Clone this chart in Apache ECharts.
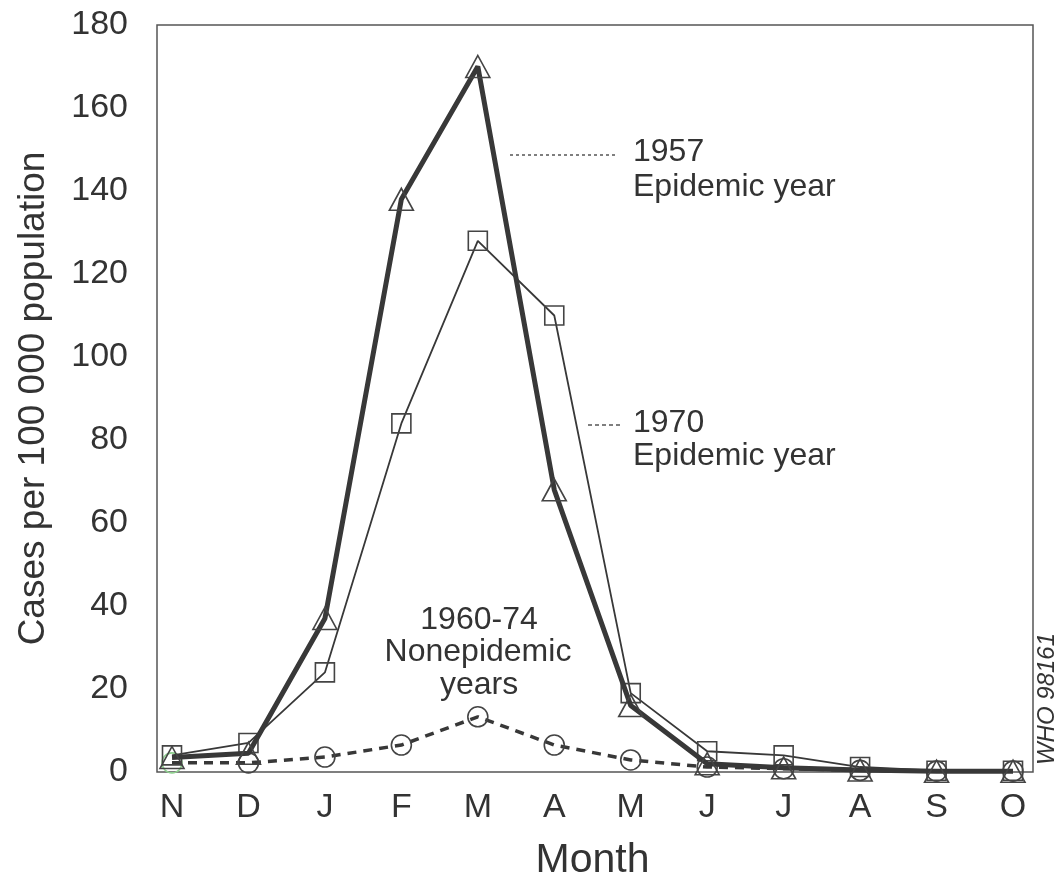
<!DOCTYPE html>
<html>
<head>
<meta charset="utf-8">
<script src="https://cdn.jsdelivr.net/npm/echarts@6/dist/echarts.min.js"></script>
<style>
html,body{margin:0;padding:0;background:#fff;}
#chart{width:1064px;height:875px;}
</style>
</head>
<body>
<div id="chart"></div>
<script>
const months = ['N','D','J','F','M','A','M','J','J','A','S','O'];
const yTicks = [0, 20, 40, 60, 80, 100, 120, 140, 160, 180];
const epi1957 = [3.5, 4.5, 37, 138, 170, 68, 16, 2, 1, 0.5, 0.2, 0.2];
const epi1970 = [4, 7, 24, 84, 128, 110, 19, 5, 4, 1.2, 0.3, 0.3];
const nonEpi = [2.2, 2.2, 3.6, 6.5, 13.3, 6.5, 2.9, 1.2, 0.8, 0.4, 0.2, 0.2];

const FONT = '"Liberation Sans", Arial, sans-serif';
const INK = '#333';
const LINE = '#383838';

const chart = echarts.init(document.getElementById('chart'), null, {renderer: 'canvas'});

function markerStyle(){
  return {color: 'rgba(0,0,0,0)', borderColor: '#444', borderWidth: 1.6};
}

const nonEpiData = nonEpi.map((v, i) => i === 0
  ? {value: v, itemStyle: {color: 'rgba(0,0,0,0)', borderColor: '#8fd08f', borderWidth: 1.6}}
  : v);

const option = {
  backgroundColor: '#fff',
  animation: false,
  grid: [
    {left: 172, right: 51, top: 25, bottom: 103, containLabel: false, outerBoundsMode: 'none'},
    {left: 157, right: 31, top: 25, bottom: 103, outerBoundsMode: 'none', show: true, borderColor: '#555', borderWidth: 1.5, backgroundColor: 'rgba(0,0,0,0)'}
  ],
  xAxis: [
    {
      type: 'category', gridIndex: 0, data: months, boundaryGap: false,
      axisLine: {show: false}, axisTick: {show: false},
      axisLabel: {fontFamily: FONT, fontSize: 34, color: INK, margin: 19, interval: 0},
      name: 'Month', nameLocation: 'middle', nameGap: 68,
      nameTextStyle: {fontFamily: FONT, fontSize: 41, color: INK}
    },
    {type: 'value', gridIndex: 1, show: false, min: 0, max: 1}
  ],
  yAxis: [
    {
      type: 'value', gridIndex: 0, min: 0, max: 180, interval: 20,
      axisLine: {show: false}, axisTick: {show: false}, splitLine: {show: false},
      axisLabel: {fontFamily: FONT, fontSize: 34, color: INK, margin: 44,
        formatter: v => yTicks.indexOf(v) >= 0 ? String(v) : ''},
      name: 'Cases per 100 000 population', nameLocation: 'middle', nameGap: 120,
      nameTextStyle: {fontFamily: FONT, fontSize: 37, color: INK}
    },
    {type: 'value', gridIndex: 1, show: false, min: 0, max: 1}
  ],
  series: [
    {
      name: '1960-74 Nonepidemic years', type: 'line', xAxisIndex: 0, yAxisIndex: 0,
      data: nonEpiData, symbol: 'circle', symbolSize: 20,
      lineStyle: {color: LINE, width: 3.5, type: [9, 7]},
      itemStyle: markerStyle(), z: 2
    },
    {
      name: '1970 Epidemic year', type: 'line', xAxisIndex: 0, yAxisIndex: 0,
      data: epi1970, symbol: 'rect', symbolSize: 19,
      lineStyle: {color: LINE, width: 1.8},
      itemStyle: markerStyle(), z: 3
    },
    {
      name: '1957 Epidemic year', type: 'line', xAxisIndex: 0, yAxisIndex: 0,
      data: epi1957, symbol: 'triangle', symbolSize: [24, 22],
      lineStyle: {color: LINE, width: 5},
      itemStyle: markerStyle(), z: 4
    }
  ],
  graphic: [
    {type: 'line', shape: {x1: 510, y1: 155, x2: 615, y2: 155}, style: {stroke: '#555', lineWidth: 1.5, lineDash: [3, 3]}},
    {type: 'text', x: 633, y: 152.5, style: {text: '1957', font: '32px ' + FONT, fill: INK, textAlign: 'left', textVerticalAlign: 'middle'}},
    {type: 'text', x: 633, y: 187.5, style: {text: 'Epidemic year', font: '32px ' + FONT, fill: INK, textAlign: 'left', textVerticalAlign: 'middle'}},
    {type: 'line', shape: {x1: 588, y1: 425, x2: 620, y2: 425}, style: {stroke: '#555', lineWidth: 1.5, lineDash: [4, 3]}},
    {type: 'text', x: 633, y: 423.5, style: {text: '1970', font: '32px ' + FONT, fill: INK, textAlign: 'left', textVerticalAlign: 'middle'}},
    {type: 'text', x: 633, y: 456, style: {text: 'Epidemic year', font: '32px ' + FONT, fill: INK, textAlign: 'left', textVerticalAlign: 'middle'}},
    {type: 'text', x: 479, y: 620, style: {text: '1960-74', font: '32px ' + FONT, fill: INK, textAlign: 'center', textVerticalAlign: 'middle'}},
    {type: 'text', x: 478, y: 652.5, style: {text: 'Nonepidemic', font: '32px ' + FONT, fill: INK, textAlign: 'center', textVerticalAlign: 'middle'}},
    {type: 'text', x: 479, y: 685, style: {text: 'years', font: '32px ' + FONT, fill: INK, textAlign: 'center', textVerticalAlign: 'middle'}},
    {type: 'text', x: 1047, y: 699, rotation: Math.PI / 2, style: {text: 'WHO 98161', font: 'italic 24px ' + FONT, fill: INK, textAlign: 'center', textVerticalAlign: 'middle'}}
  ]
};
chart.setOption(option);
</script>
</body>
</html>
